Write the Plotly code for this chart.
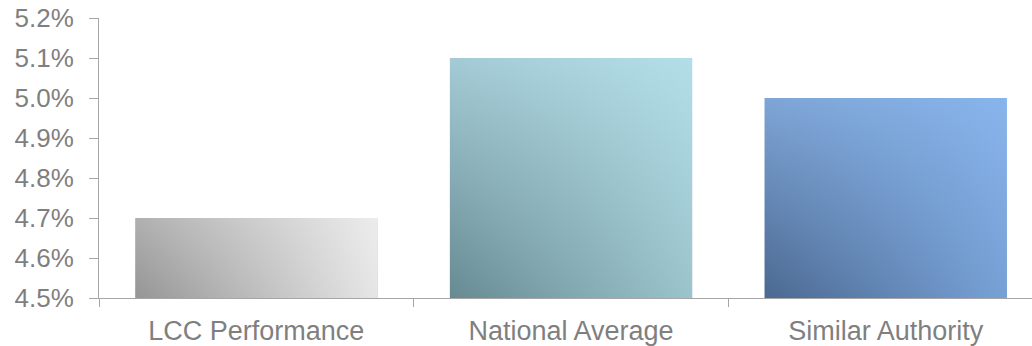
import plotly.graph_objects as go

# Chart data
categories = ["LCC Performance", "National Average", "Similar Authority"]
values = [4.7, 5.1, 5.0]  # percent
y_ticks = [4.5, 4.6, 4.7, 4.8, 4.9, 5.0, 5.1, 5.2]
y_tick_labels = ["4.5%", "4.6%", "4.7%", "4.8%", "4.9%", "5.0%", "5.1%", "5.2%"]

# Gradient corner colours for each bar: bottom-left, top-left, bottom-right, top-right
corner_colors = [
    ("#959595", "#b0b0b0", "#e6e6e6", "#efefef"),
    ("#678a92", "#a4cbd5", "#9bc4cd", "#b3dde9"),
    ("#4b6890", "#7ea5d6", "#77a1d6", "#8bb4e8"),
]

BAR_WIDTH = 0.77
AXIS_COLOR = "#a6a6a6"
TEXT_COLOR = "#7f7f7f"
FONT = "Liberation Sans, Arial, sans-serif"


def hex_rgb(h):
    h = h.lstrip("#")
    return [int(h[i:i + 2], 16) for i in (0, 2, 4)]


def overlay_for(bl, tl, br, tr):
    """Horizontal translucent overlay that turns a vertical left-edge gradient
    into the right-edge gradient (bilinear approximation of a diagonal fill)."""
    bl, tl, br, tr = map(hex_rgb, (bl, tl, br, tr))
    ratios = []
    for c in range(3):
        span = tl[c] - bl[c]
        if span != 0:
            ratios.append((tr[c] - br[c]) / span)
    keep = min(max(sum(ratios) / len(ratios), 0.05), 0.95)
    alpha = 1 - keep
    # the overlay colour must stay within 0..255
    for c in range(3):
        if br[c] > bl[c]:
            alpha = max(alpha, (br[c] - bl[c]) / (255 - bl[c]))
    keep = 1 - alpha
    w = [min(max(round((br[c] - keep * bl[c]) / alpha), 0), 255) for c in range(3)]
    return w, alpha


fig = go.Figure()
base = y_ticks[0]

for i, (val, cols) in enumerate(zip(values, corner_colors)):
    bl, tl, br, tr = cols
    xs = [i - BAR_WIDTH / 2, i + BAR_WIDTH / 2, i + BAR_WIDTH / 2, i - BAR_WIDTH / 2, i - BAR_WIDTH / 2]
    ys = [base, base, val, val, base]
    # vertical gradient along the left edge
    fig.add_trace(go.Scatter(
        x=xs, y=ys, mode="lines", fill="toself",
        line=dict(width=0, color="rgba(0,0,0,0)"),
        fillgradient=dict(type="vertical", colorscale=[[0, bl], [1, tl]],
                          start=base, stop=val),
        hoverinfo="skip", showlegend=False,
    ))
    # horizontal lightening towards the right edge
    w, alpha = overlay_for(bl, tl, br, tr)
    rgb = f"{w[0]},{w[1]},{w[2]}"
    fig.add_trace(go.Scatter(
        x=xs, y=ys, mode="lines", fill="toself",
        line=dict(width=0, color="rgba(0,0,0,0)"),
        fillgradient=dict(type="horizontal",
                          colorscale=[[0, f"rgba({rgb},0)"], [1, f"rgba({rgb},{alpha:.3f})"]],
                          start=i - BAR_WIDTH / 2, stop=i + BAR_WIDTH / 2),
        name=categories[i], showlegend=False,
        hovertemplate=f"{categories[i]}: {val:.1f}%<extra></extra>",
    ))

fig.update_layout(
    width=1032, height=346,
    margin=dict(l=99, r=0, t=18, b=48),
    paper_bgcolor="white", plot_bgcolor="white",
    font=dict(family=FONT, color=TEXT_COLOR),
    showlegend=False,
)

fig.update_xaxes(
    range=[-0.5, 2.465],
    tickmode="array", tickvals=list(range(len(categories))), ticktext=categories,
    ticks="", tickfont=dict(size=27, color=TEXT_COLOR, family=FONT),
    ticklabelstandoff=9,
    showline=True, linecolor=AXIS_COLOR, linewidth=1,
    showgrid=False, zeroline=False,
    minor=dict(tickmode="linear", tick0=-0.5, dtick=1, ticks="outside",
               ticklen=8, tickcolor=AXIS_COLOR, tickwidth=1, showgrid=False),
)

fig.update_yaxes(
    range=[y_ticks[0], y_ticks[-1]],
    tickmode="array", tickvals=y_ticks, ticktext=y_tick_labels,
    ticks="outside", ticklen=9, tickcolor=AXIS_COLOR, tickwidth=1,
    tickfont=dict(size=26, color=TEXT_COLOR, family=FONT),
    ticklabelstandoff=10,
    showline=True, linecolor=AXIS_COLOR, linewidth=1,
    showgrid=False, zeroline=False,
)

fig.write_html("out.html")
